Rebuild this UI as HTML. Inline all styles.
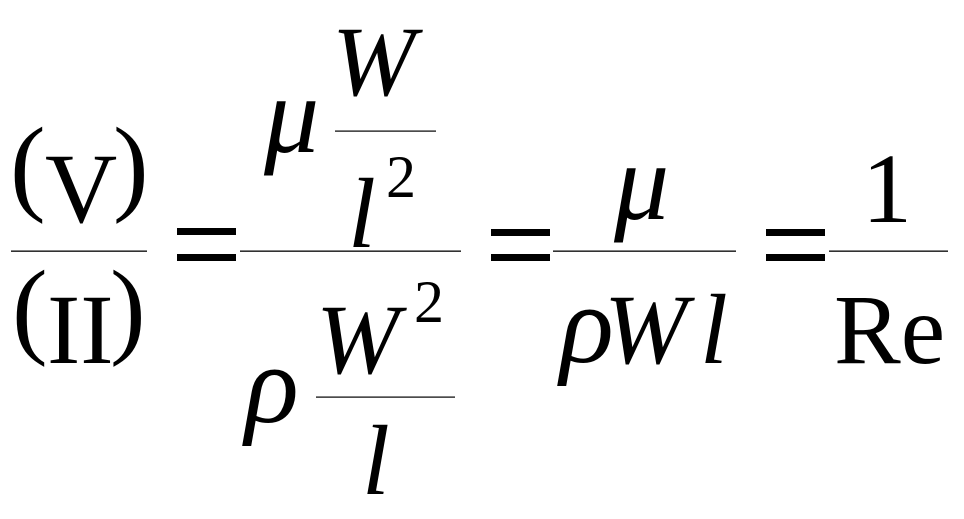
<!DOCTYPE html>
<html><head><meta charset="utf-8"><style>html,body{margin:0;padding:0;background:#fff;width:964px;height:519px;overflow:hidden}</style></head>
<body>
<svg width="964" height="519" viewBox="0 0 964 519" xmlns="http://www.w3.org/2000/svg">
<g font-family="Liberation Serif, serif" fill="#000">
  <text x="10" y="201" font-size="107">(</text>
  <text x="45" y="222" font-size="100">V</text>
  <text x="113" y="201" font-size="107">)</text>
  <rect x="11" y="250.5" width="136" height="1.3"/>
  <text x="12" y="344" font-size="107">(</text>
  <text x="47" y="363" font-size="100">II</text>
  <text x="110" y="344" font-size="107">)</text>

  <rect x="177" y="228" width="59" height="7"/>
  <rect x="177" y="254" width="59" height="7"/>

  <rect x="240" y="250.5" width="221" height="1.3"/>
  <text x="264" y="152" font-size="110" font-style="italic">μ</text>
  <text x="332" y="95" font-size="100" font-style="italic">W</text>
  <rect x="335" y="130.5" width="101" height="1.2"/>
  <text x="348" y="247" font-size="100" font-style="italic">l</text>
  <text x="386" y="197" font-size="60">2</text>

  <text x="245" y="422" font-size="112" font-style="italic">ρ</text>
  <text x="316" y="373" font-size="100" font-style="italic">W</text>
  <text x="414" y="322" font-size="60">2</text>
  <rect x="316" y="396.5" width="139" height="1.2"/>
  <text x="362" y="494" font-size="100" font-style="italic">l</text>

  <rect x="491" y="229" width="59" height="7"/>
  <rect x="491" y="254" width="59" height="7"/>
  <rect x="553" y="250.5" width="183" height="1.3"/>
  <text x="614" y="219" font-size="110" font-style="italic">μ</text>
  <text x="560" y="362" font-size="112" font-style="italic">ρ</text>
  <text x="604" y="363" font-size="100" font-style="italic">W</text>
  <text x="700" y="363" font-size="100" font-style="italic">l</text>

  <rect x="766" y="229" width="59" height="7"/>
  <rect x="766" y="254" width="59" height="7"/>
  <rect x="829" y="250.5" width="119" height="1.3"/>
  <text x="862" y="222" font-size="100">1</text>
  <text x="834" y="363" font-size="100">Re</text>
</g>
</svg>
</body></html>
